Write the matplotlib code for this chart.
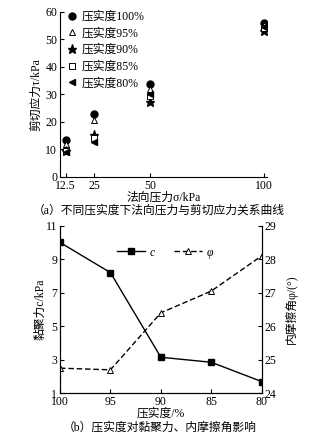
import matplotlib
matplotlib.use("Agg")
import matplotlib.pyplot as plt

plt.rcParams["font.family"] = ["Liberation Serif", "Noto Sans CJK SC"]
plt.rcParams["font.size"] = 8.5

# (a) normal stress vs shear stress, by compaction degree
normal_stress = [12.5, 25, 50, 100]
compaction_labels = ["压实度100%", "压实度95%", "压实度90%", "压实度85%", "压实度80%"]
shear_100 = [13.5, 22.8, 33.8, 55.8]
shear_95 = [12.0, 20.6, 32.0, 55.0]
shear_90 = [9.3, 15.3, 27.3, 53.0]
shear_85 = [9.4, 14.2, 29.5, 54.0]
shear_80 = [9.0, 12.8, 30.0, 54.5]

# (b) cohesion and friction angle vs compaction degree
compaction = [100, 95, 90, 85, 80]
cohesion = [10.0, 8.2, 3.15, 2.85, 1.7]
friction_angle = [24.75, 24.7, 26.4, 27.05, 28.1]

fig = plt.figure(figsize=(3.36, 4.42), dpi=100)

# ---- top panel ----
ax1 = fig.add_axes([0.1786, 0.600, 0.616, 0.3735])
styles = [
    dict(marker="o", color="black", mfc="black", ms=5),
    dict(marker="^", color="black", mfc="white", ms=5, mew=0.7),
    dict(marker="*", color="black", mfc="black", ms=6.5),
    dict(marker="s", color="black", mfc="white", ms=4.5, mew=0.7),
    dict(marker="<", color="black", mfc="black", ms=5),
]
for series, label, st in zip([shear_100, shear_95, shear_90, shear_85, shear_80], compaction_labels, styles):
    ax1.plot(normal_stress, series, linestyle="none", label=label, **st)

ax1.set_xlim(10, 101.5)
ax1.set_ylim(0, 60)
ax1.set_xticks(normal_stress)
ax1.set_xticklabels(["12.5", "25", "50", "100"])
ax1.set_yticks(range(0, 61, 10))
ax1.spines["top"].set_visible(False)
ax1.spines["right"].set_visible(False)
ax1.tick_params(direction="in", length=3, width=0.8, pad=2, labelsize=8.5)
ax1.set_xlabel("法向压力σ/kPa", fontsize=8.5)
ax1.xaxis.set_label_coords(0.5, -0.088)
ax1.set_ylabel("剪切应力τ/kPa", fontsize=8.5)
ax1.yaxis.set_label_coords(-0.085, 0.5)
ax1.legend(loc="upper left", bbox_to_anchor=(0.02, 1.035), frameon=False,
           handlelength=0.6, handletextpad=0.5, labelspacing=0.4,
           borderaxespad=0.0, fontsize=8.5)

fig.text(0.473, 0.5226, "（a）不同压实度下法向压力与剪切应力关系曲线",
         ha="center", va="center", fontsize=8.5)

# ---- bottom panel ----
ax2 = fig.add_axes([0.1786, 0.1102, 0.6003, 0.3792])
ax3 = ax2.twinx()
l1, = ax2.plot(compaction, cohesion, color="black", lw=1.0, marker="s",
               mfc="black", ms=4.5, label="c")
l2, = ax3.plot(compaction, friction_angle, color="black", lw=1.0, ls=(0, (4, 2)),
               marker="^", mfc="white", ms=4.5, mew=0.7, label="φ")

ax2.set_xlim(100, 80)
ax2.set_xticks(compaction)
ax2.set_ylim(1, 11)
ax2.set_yticks([1, 3, 5, 7, 9, 11])
ax3.set_ylim(24, 29)
ax3.set_yticks([24, 25, 26, 27, 28, 29])
for a in (ax2, ax3):
    a.spines["top"].set_visible(False)
    a.tick_params(direction="in", length=3, width=0.8, pad=2, labelsize=8.5)

ax2.set_ylabel("黏聚力c/kPa", fontsize=8.5)
ax2.yaxis.set_label_coords(-0.067, 0.5)
ax3.set_ylabel("内摩擦角φ/(°)", fontsize=8.5)
ax3.yaxis.set_label_coords(1.113, 0.5)
ax2.set_xlabel("压实度/%", fontsize=8.5)
ax2.xaxis.set_label_coords(0.5, -0.088)

leg = ax2.legend(handles=[l1, l2], loc="center", bbox_to_anchor=(0.52, 0.84), ncol=2,
                 frameon=False, handlelength=2.4, handletextpad=0.4, columnspacing=1.6,
                 fontsize=8.5)
for t in leg.get_texts():
    t.set_fontstyle("italic")

fig.text(0.476, 0.0317, "（b）压实度对黏聚力、内摩擦角影响",
         ha="center", va="center", fontsize=8.5)

fig.savefig("out.png", dpi=100)
